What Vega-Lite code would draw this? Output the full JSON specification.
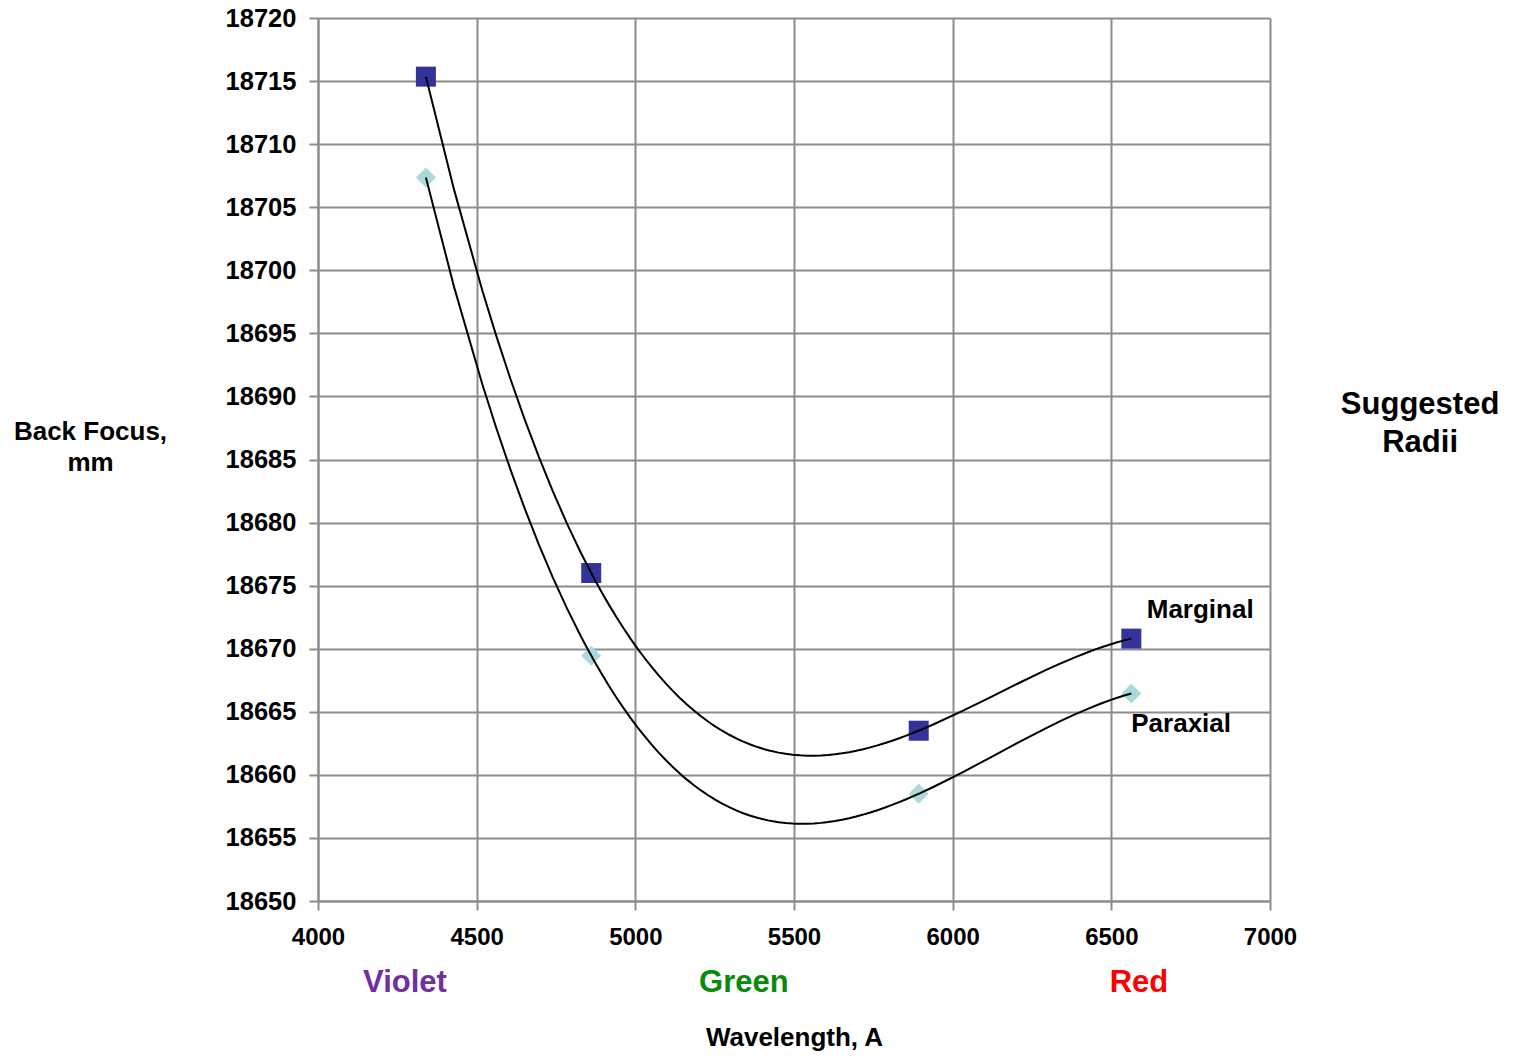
{
  "$schema": "https://vega.github.io/schema/vega-lite/v6.json",
  "width": 952,
  "height": 883,
  "autosize": "none",
  "padding": {"left": 318, "top": 18, "right": 247, "bottom": 155},
  "background": "white",
  "config": {
    "view": {"stroke": null},
    "font": "Liberation Sans",
    "axis": {
      "gridColor": "#8c8c8c",
      "gridWidth": 2,
      "gridOpacity": 1,
      "domainColor": "#8c8c8c",
      "domainWidth": 2,
      "tickColor": "#8c8c8c",
      "tickWidth": 2,
      "tickSize": 9,
      "labelFont": "Liberation Sans",
      "labelFontSize": 24,
      "labelFontWeight": "bold",
      "labelColor": "black",
      "titleFont": "Liberation Sans",
      "titleFontSize": 26,
      "titleFontWeight": "bold",
      "titleColor": "black"
    }
  },
  "datasets": {
    "focus": [
      {"series": "Marginal", "wavelength": 4340, "back_focus": 18715.35},
      {"series": "Marginal", "wavelength": 4861, "back_focus": 18676.0},
      {"series": "Marginal", "wavelength": 5893, "back_focus": 18663.5},
      {"series": "Marginal", "wavelength": 6563, "back_focus": 18670.8},
      {"series": "Paraxial", "wavelength": 4340, "back_focus": 18707.35},
      {"series": "Paraxial", "wavelength": 4861, "back_focus": 18669.45},
      {"series": "Paraxial", "wavelength": 5893, "back_focus": 18658.5},
      {"series": "Paraxial", "wavelength": 6563, "back_focus": 18666.45}
    ]
  },
  "layer": [
    {
      "data": {"name": "focus"},
      "mark": {"type": "point", "filled": true, "opacity": 1, "size": 400, "strokeWidth": 0},
      "encoding": {
        "x": {
          "field": "wavelength",
          "type": "quantitative",
          "scale": {"domain": [4000, 7000], "nice": false, "zero": false},
          "axis": {
            "values": [4000, 4500, 5000, 5500, 6000, 6500, 7000],
            "format": "d",
            "title": "Wavelength, A",
            "titleY": 136,
            "titleBaseline": "middle",
            "labelPadding": 15,
            "labelFlush": false
          }
        },
        "y": {
          "field": "back_focus",
          "type": "quantitative",
          "scale": {"domain": [18650, 18720], "nice": false, "zero": false},
          "axis": {
            "values": [18650, 18655, 18660, 18665, 18670, 18675, 18680, 18685, 18690, 18695, 18700, 18705, 18710, 18715, 18720],
            "format": "d",
            "title": ["Back Focus,", "mm"],
            "titleAngle": 0,
            "titleX": -228,
            "titleY": 413,
            "titleAlign": "center",
            "titleBaseline": "middle",
            "titleLineHeight": 31,
            "labelFontSize": 25.5,
            "labelPadding": 13,
            "labelFlush": false
          }
        },
        "shape": {
          "field": "series",
          "type": "nominal",
          "scale": {"domain": ["Marginal", "Paraxial"], "range": ["square", "diamond"]},
          "legend": null
        },
        "color": {
          "field": "series",
          "type": "nominal",
          "scale": {"domain": ["Marginal", "Paraxial"], "range": ["#333399", "#aad9dc"]},
          "legend": null
        }
      }
    },
    {
      "data": {"name": "focus"},
      "transform": [
        {"regression": "back_focus", "on": "wavelength", "groupby": ["series"], "method": "poly", "order": 3}
      ],
      "mark": {"type": "line", "color": "black", "strokeWidth": 2},
      "encoding": {
        "x": {"field": "wavelength", "type": "quantitative"},
        "y": {"field": "back_focus", "type": "quantitative"},
        "detail": {"field": "series", "type": "nominal"}
      }
    },
    {
      "data": {"values": [{}]},
      "mark": {"type": "text", "text": "Marginal", "fontSize": 26, "fontWeight": "bold", "align": "center", "baseline": "middle", "color": "black"},
      "encoding": {"x": {"datum": 6780}, "y": {"datum": 18673.1}}
    },
    {
      "data": {"values": [{}]},
      "mark": {"type": "text", "text": "Paraxial", "fontSize": 26, "fontWeight": "bold", "align": "center", "baseline": "middle", "color": "black"},
      "encoding": {"x": {"datum": 6720}, "y": {"datum": 18664.0}}
    },
    {
      "data": {"values": [{}]},
      "mark": {"type": "text", "text": ["Suggested", "Radii"], "fontSize": 31, "fontWeight": "bold", "align": "center", "baseline": "middle", "lineHeight": 38, "color": "black"},
      "encoding": {"x": {"datum": 7473}, "y": {"datum": 18689.3}}
    },
    {
      "data": {"values": [{}]},
      "mark": {"type": "text", "text": "Violet", "fontSize": 31, "fontWeight": "bold", "align": "center", "baseline": "middle", "color": "#7030a0"},
      "encoding": {"x": {"datum": 4274}, "y": {"datum": 18643.5}}
    },
    {
      "data": {"values": [{}]},
      "mark": {"type": "text", "text": "Green", "fontSize": 31, "fontWeight": "bold", "align": "center", "baseline": "middle", "color": "#0a8a0a"},
      "encoding": {"x": {"datum": 5342}, "y": {"datum": 18643.5}}
    },
    {
      "data": {"values": [{}]},
      "mark": {"type": "text", "text": "Red", "fontSize": 31, "fontWeight": "bold", "align": "center", "baseline": "middle", "color": "#ff0000"},
      "encoding": {"x": {"datum": 6587}, "y": {"datum": 18643.5}}
    }
  ]
}
